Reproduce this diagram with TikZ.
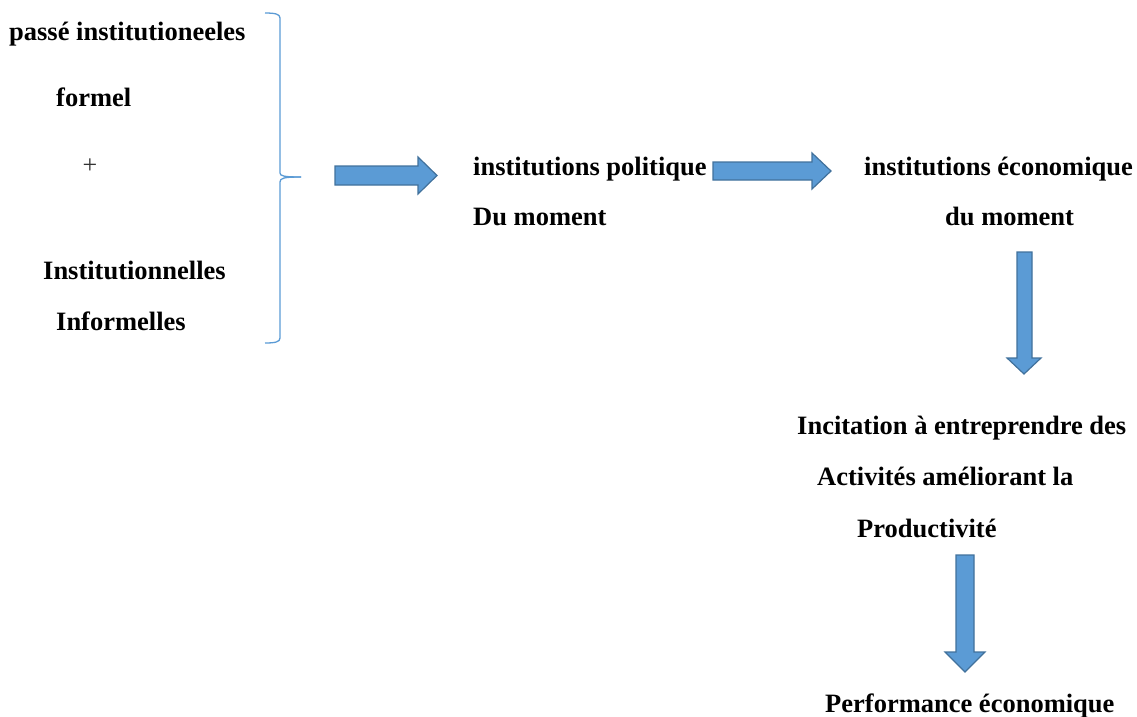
\documentclass[tikz,border=0pt]{standalone}
\usepackage{fontspec}
\setmainfont{Liberation Serif}
\definecolor{arrfill}{RGB}{91,155,213}
\definecolor{arrline}{RGB}{65,113,156}
\definecolor{bracecol}{RGB}{91,155,213}
\tikzset{
  lbl/.style={anchor=base west, inner sep=0pt, font=\fontsize{26.5}{30}\selectfont\bfseries},
  blockarrow/.style={fill=arrfill, draw=arrline, line width=1.2pt, line join=miter},
  bracestyle/.style={draw=bracecol, line width=1.3pt}
}
\begin{document}
\begin{tikzpicture}[x=1pt,y=-1pt]
\useasboundingbox (0,0) rectangle (1137,716);
% left column
\node[lbl] (passe) at (9,40) {passé institutioneeles};
\node[lbl] (formel) at (56,106) {formel};
\node[inner sep=0pt, font=\fontsize{26}{30}\selectfont, text=black!80] (plus) at (90,166) {+};
\node[lbl] (instit) at (43,279) {Institutionnelles};
\node[lbl] (inform) at (56,330) {Informelles};
% brace
\draw[bracestyle] (265,13) .. controls (275,13) and (280,14) .. (280,18)
  -- (280,173) .. controls (280,176) and (284,177) .. (301,177);
\draw[bracestyle] (301,177) .. controls (284,177) and (280,178) .. (280,182)
  -- (280,338) .. controls (280,342) and (275,343) .. (265,343);
% middle
\node[lbl] (pol) at (473,175) {institutions politique};
\node[lbl] (polm) at (473,225) {Du moment};
\node[lbl] (eco) at (864,175) {institutions économique};
\node[lbl] (ecom) at (945,225) {du moment};
\node[lbl] (inc1) at (797,434) {Incitation à entreprendre des};
\node[lbl] (inc2) at (817,485) {Activités améliorant la};
\node[lbl] (inc3) at (857,537) {Productivité};
\node[lbl] (perf) at (825,712) {Performance économique};
% block arrows
\draw[blockarrow] (335,166) -- (418,166) -- (418,157) -- (437,175.5) -- (418,194) -- (418,185) -- (335,185) -- cycle;
\draw[blockarrow] (713,162) -- (812,162) -- (812,153) -- (831,171) -- (812,189) -- (812,180) -- (713,180) -- cycle;
\draw[blockarrow] (1017,252) -- (1032,252) -- (1032,358) -- (1041,358) -- (1024,374) -- (1007,358) -- (1017,358) -- cycle;
\draw[blockarrow] (956,555) -- (974,555) -- (974,652) -- (985,652) -- (965,672) -- (945,652) -- (956,652) -- cycle;
\end{tikzpicture}
\end{document}
